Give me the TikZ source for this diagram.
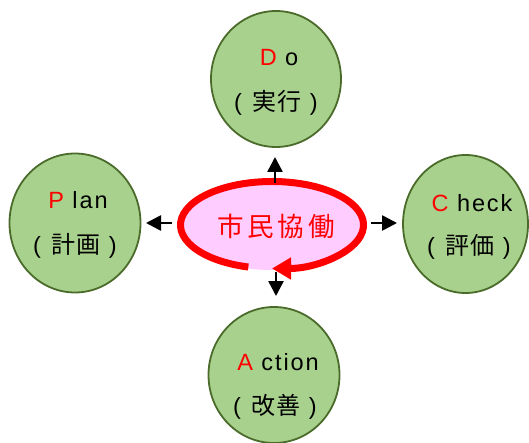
\documentclass[tikz,border=0pt]{standalone}
\usepackage{fontspec}
\setmainfont{Liberation Sans}
\newfontfamily\lat[LetterSpace=8]{Liberation Sans}
\newfontfamily\cjksp[LetterSpace=8]{Noto Sans CJK JP}
\newfontfamily\corefont[LetterSpace=15]{Noto Sans CJK JP}
\usetikzlibrary{arrows.meta,shapes.geometric,calc}
\definecolor{leaf}{HTML}{A9D18E}
\definecolor{leafedge}{HTML}{4A6B2A}
\definecolor{pinkfill}{HTML}{FFCCFF}
\newcommand{\rl}[1]{\textcolor{red}{#1}}
\newcommand{\pr}[1]{\lat(\hspace{10pt}{\fontsize{24}{28}\selectfont\cjksp #1}\hspace{8pt}\lat)}
\begin{document}
\begin{tikzpicture}[x=1pt,y=-1pt,
  phase/.style={ellipse, draw=leafedge, line width=1.8pt, fill=leaf, inner sep=0pt},
  word/.style={inner sep=0pt, font=\fontsize{23.5}{28}\selectfont\lat},
  outarrow/.style={line width=2.6pt, -{Triangle[length=15pt,width=15pt]}}]
\useasboundingbox (0,0) rectangle (529,443);
% phase circles
\node[phase, minimum width=130pt, minimum height=136pt] (do) at (276,79) {};
\node[phase, minimum width=131pt, minimum height=139pt] (plan) at (75,223) {};
\node[phase, minimum width=125pt, minimum height=138pt] (check) at (465.5,224) {};
\node[phase, minimum width=131pt, minimum height=136pt] (action) at (274,375) {};
\node[word] (doA) at (279,58) {\rl{D} o};
\node[word] (doB) at (276,103) {\pr{実行}};
\node[word] (planA) at (78,200) {\rl{P} lan};
\node[word] (planB) at (75,246) {\pr{計画}};
\node[word] (checkA) at (472,203) {\rl{C} heck};
\node[word] (checkB) at (469,247) {\pr{評価}};
\node[word] (actionA) at (278,362) {\rl{A} ction};
\node[word] (actionB) at (275,407) {\pr{改善}};
% central ellipse
\node[ellipse, fill=pinkfill, minimum width=188pt, minimum height=90pt, inner sep=0pt]
  (core) at (272,225) {};
\draw[red, line width=7pt, -{Triangle[length=19pt,width=21pt]}]
  ($(core.center)+(105:91.5 and 43.5)$) arc[start angle=105, end angle=450, x radius=91.5, y radius=43.5];
\node[text=red, inner sep=0pt, font=\fontsize{26.5}{30}\selectfont\corefont] (coretext) at (276,226) {市民協働};
% arrows
\coordinate (ts) at (275,183); \coordinate (tt) at (275,157);
\coordinate (bs) at (276,272); \coordinate (bt) at (276,296);
\coordinate (ls) at (172,223); \coordinate (lt) at (146,223);
\coordinate (rs) at (371,223); \coordinate (rt) at (397,223);
\draw[outarrow] (ts) -- (tt);
\draw[outarrow] (bs) -- (bt);
\draw[outarrow] (ls) -- (lt);
\draw[outarrow] (rs) -- (rt);
\end{tikzpicture}
\end{document}
